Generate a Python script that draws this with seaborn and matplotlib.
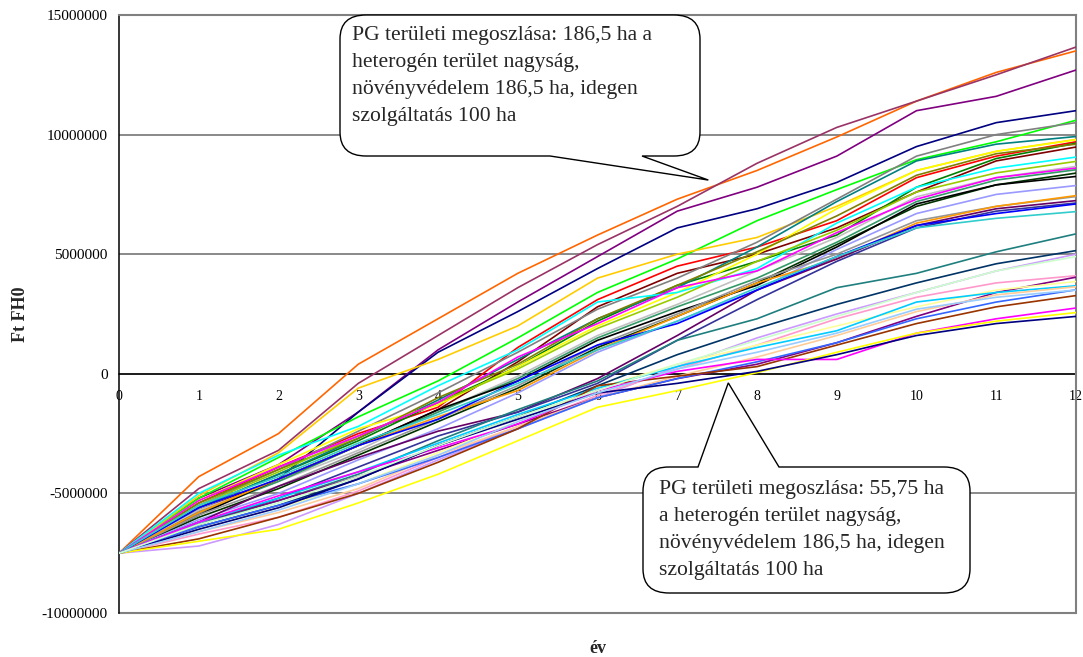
import numpy as np
import pandas as pd
import matplotlib
matplotlib.use("Agg")
import matplotlib.pyplot as plt
from matplotlib.path import Path
from matplotlib.patches import PathPatch
from matplotlib.transforms import Affine2D
import seaborn as sns

# ---- data (values in million Ft, year 0..12) ----
years = list(range(13))
MILLION = 1_000_000

s01 = [-7.5, -4.3, -2.5, 0.4, 2.3, 4.2, 5.8, 7.3, 8.5, 9.9, 11.4, 12.6, 13.5]
s02 = [-7.5, -4.8, -3.2, -0.4, 1.6, 3.6, 5.4, 7.0, 8.8, 10.3, 11.4, 12.5, 13.66]
s03 = [-7.5, -5.2, -3.8, -1.6, 1.0, 3.0, 4.9, 6.8, 7.8, 9.1, 11.0, 11.6, 12.7]
s04 = [-7.5, -5.8, -4.4, -1.6, 0.9, 2.6, 4.4, 6.1, 6.9, 8.0, 9.5, 10.5, 11.0]
s05 = [-7.5, -5.2, -3.5, -1.8, -0.3, 1.5, 3.4, 4.8, 6.4, 7.7, 8.95, 9.7, 10.6]
s06 = [-7.5, -5.1, -3.3, -0.6, 0.6, 2.0, 4.0, 5.0, 5.7, 7.0, 8.5, 9.3, 9.8]
s07 = [-7.5, -5.4, -3.9, -2.5, -1.4, 1.1, 3.1, 4.5, 5.3, 6.4, 8.2, 9.1, 9.7]
s08 = [-7.5, -5.7, -4.4, -3.0, -1.5, 0.5, 2.8, 4.2, 5.0, 6.1, 7.6, 8.9, 9.48]
s09 = [-7.5, -5.6, -4.2, -2.8, -1.2, 0.3, 2.2, 3.7, 4.7, 5.8, 7.8, 9.0, 9.64]
s10 = [-7.5, -5.6, -4.2, -2.7, -1.1, 0.6, 2.3, 3.6, 5.3, 7.2, 8.9, 9.6, 9.92]
s11 = [-7.5, -5.5, -4.0, -2.4, -0.8, 0.9, 2.7, 4.0, 5.5, 7.3, 9.1, 10.0, 10.5]
s12 = [-7.5, -5.3, -3.8, -2.3, -1.3, 0.3, 2.0, 3.4, 5.0, 6.9, 8.5, 9.3, 9.78]
s13 = [-7.5, -5.4, -4.0, -2.7, -1.0, 0.4, 2.3, 3.7, 5.1, 6.6, 8.3, 9.2, 9.6]
s14 = [-7.5, -5.0, -3.4, -2.2, -0.5, 1.0, 3.0, 3.4, 4.4, 6.3, 7.8, 8.6, 9.06]
s15 = [-7.5, -5.5, -4.1, -2.6, -1.2, 0.2, 1.9, 3.2, 4.7, 6.0, 7.6, 8.4, 8.88]
s16 = [-7.5, -5.7, -4.5, -3.2, -1.6, -0.1, 1.6, 2.9, 4.3, 5.7, 7.4, 8.2, 8.67]
s17 = [-7.5, -5.3, -3.9, -2.6, -1.2, 0.7, 2.1, 3.6, 4.3, 5.9, 7.3, 8.2, 8.6]
s18 = [-7.5, -5.8, -4.5, -3.0, -1.6, -0.2, 1.5, 2.8, 4.0, 5.5, 7.2, 8.1, 8.53]
s19 = [-7.5, -6.0, -4.8, -3.4, -2.0, -0.6, 1.1, 2.4, 3.8, 5.4, 7.0, 7.9, 8.39]
s20 = [-7.5, -5.9, -4.4, -3.0, -1.5, -0.3, 1.4, 2.6, 3.7, 5.3, 7.1, 7.9, 8.25]
s21 = [-7.5, -6.1, -5.0, -3.6, -2.3, -0.8, 0.9, 2.2, 3.5, 5.2, 6.7, 7.5, 7.87]
s22 = [-7.5, -5.9, -4.7, -3.3, -1.9, -0.5, 1.2, 2.5, 3.9, 5.0, 6.4, 7.0, 7.41]
s23 = [-7.5, -5.8, -4.4, -3.0, -1.8, -0.7, 1.0, 2.4, 3.8, 4.8, 6.3, 7.0, 7.45]
s24 = [-7.5, -6.2, -4.7, -3.5, -2.4, -1.6, -0.2, 1.6, 3.5, 4.8, 6.2, 6.9, 7.24]
s25 = [-7.5, -6.3, -5.2, -3.9, -2.6, -1.6, -0.4, 1.4, 3.1, 4.7, 6.1, 6.8, 7.14]
s26 = [-7.5, -5.6, -4.4, -3.0, -1.9, -0.3, 1.2, 2.1, 3.5, 4.9, 6.2, 6.7, 7.1]
s27 = [-7.5, -5.5, -4.3, -2.9, -1.7, -0.4, 1.0, 2.2, 3.6, 4.9, 6.1, 6.5, 6.78]
s28 = [-7.5, -6.3, -5.3, -4.2, -2.8, -1.5, -0.3, 1.4, 2.3, 3.6, 4.2, 5.1, 5.85]
s29 = [-7.5, -6.4, -5.5, -4.4, -3.0, -1.8, -0.5, 0.8, 1.9, 2.9, 3.8, 4.6, 5.15]
s30 = [-7.5, -7.2, -6.3, -5.0, -3.6, -2.3, -1.0, 0.3, 1.5, 2.5, 3.4, 4.3, 5.0]
s31 = [-7.5, -6.7, -6.0, -4.9, -3.5, -2.2, -0.9, 0.2, 1.2, 2.3, 3.2, 3.8, 4.1]
s32 = [-7.5, -6.2, -5.3, -4.3, -3.2, -2.1, -1.0, -0.2, 0.4, 1.3, 2.4, 3.4, 4.04]
s33 = [-7.5, -6.5, -5.6, -4.6, -3.3, -2.0, -0.6, 0.4, 1.2, 2.0, 2.8, 3.5, 3.86]
s34 = [-7.5, -6.2, -5.2, -4.1, -2.9, -1.7, -0.6, 0.3, 1.1, 1.8, 3.0, 3.4, 3.68]
s35 = [-7.5, -6.6, -5.8, -4.8, -3.4, -2.2, -1.0, -0.1, 0.7, 1.6, 2.6, 3.3, 3.64]
s36 = [-7.5, -6.4, -5.5, -4.6, -3.5, -2.3, -1.0, -0.2, 0.5, 1.3, 2.3, 3.0, 3.51]
s37 = [-7.5, -6.9, -6.0, -5.0, -3.7, -2.3, -0.5, -0.1, 0.3, 1.2, 2.1, 2.8, 3.27]
s38 = [-7.5, -6.2, -5.1, -4.1, -3.1, -2.1, -0.7, 0.1, 0.6, 0.6, 1.7, 2.3, 2.75]
s39 = [-7.5, -7.0, -6.5, -5.4, -4.2, -2.8, -1.4, -0.7, 0.05, 0.9, 1.7, 2.2, 2.56]
s40 = [-7.5, -6.5, -5.6, -4.4, -3.0, -1.9, -0.8, -0.4, 0.1, 0.8, 1.6, 2.1, 2.4]
s41 = [-7.5, -6.6, -5.7, -4.6, -3.4, -2.0, -0.8, 0.2, 0.9, 1.7, 2.7, 3.2, 3.5]
s42 = [-7.5, -6.3, -5.4, -4.3, -3.0, -1.8, -0.7, 0.4, 1.4, 2.4, 3.4, 4.3, 4.9]

series = [s01, s02, s03, s04, s05, s06, s07, s08, s09, s10, s11, s12, s13, s14,
          s15, s16, s17, s18, s19, s20, s21, s22, s23, s24, s25, s26, s27, s28,
          s29, s30, s31, s32, s33, s34, s35, s36, s37, s38, s39, s40, s41, s42]

line_colors = ["#FF6600", "#993366", "#800080", "#000080", "#00FF00", "#FFCC00",
               "#FF0000", "#800000", "#008000", "#008080", "#808080", "#FFFF00",
               "#808000", "#00FFFF", "#99CC00", "#C0C0C0", "#FF00FF", "#339966",
               "#003300", "#000000", "#9999FF", "#969696", "#FF9900", "#660066",
               "#333399", "#0000FF", "#33CCCC", "#1F7F7F", "#003366", "#CC99FF",
               "#FF99CC", "#800080", "#FFFF99", "#00CCFF", "#FFCC99", "#3366FF",
               "#993300", "#FF00FF", "#FFFF00", "#000080", "#99CCFF", "#CCFFCC"]

y_ticks = [-10000000, -5000000, 0, 5000000, 10000000, 15000000]
x_ticks = years

callout_top = ["PG területi megoszlása: 186,5 ha a",
               "heterogén terület nagyság,",
               "növényvédelem 186,5 ha, idegen",
               "szolgáltatás 100 ha"]
callout_bottom = ["PG területi megoszlása: 55,75 ha",
                  "a heterogén terület nagyság,",
                  "növényvédelem 186,5 ha, idegen",
                  "szolgáltatás 100 ha"]

# ---- long table for seaborn ----
names = [f"S{i + 1:02d}" for i in range(len(series))]
rows = []
for name, vals in zip(names, series):
    for yr, v in zip(years, vals):
        rows.append({"év": yr, "Ft FH0": v * MILLION, "sorozat": name})
df = pd.DataFrame(rows)
palette = dict(zip(names, line_colors))

sns.set_style("white")
plt.rcParams["font.family"] = ["Liberation Serif", "DejaVu Serif"]

W, H = 1083, 657
fig = plt.figure(figsize=(W / 100, H / 100), dpi=100)
ax = fig.add_axes([119 / W, 1 - 613 / H, (1076 - 119) / W, (613 - 15) / H])

sns.lineplot(data=df, x="év", y="Ft FH0", hue="sorozat", palette=palette,
             legend=False, linewidth=1.2, estimator=None, sort=False, ax=ax,
             zorder=3)

GRAY = "#808080"
ax.set_xlim(0, 12)
ax.set_ylim(-10000000, 15000000)
ax.set_yticks(y_ticks)
ax.set_yticklabels([str(v) for v in y_ticks], fontsize=11)
ax.set_xticks(x_ticks)
ax.set_xticklabels([str(v) for v in x_ticks], fontsize=10.5)
ax.tick_params(axis="y", direction="out", length=5, width=1, pad=3, colors="black")
ax.tick_params(axis="x", direction="out", length=5, width=1, pad=7, colors="black")

ax.yaxis.grid(True, color=GRAY, linewidth=1.3)
ax.xaxis.grid(False)
ax.set_axisbelow(True)

ax.spines["bottom"].set_position(("data", 0))
ax.spines["bottom"].set_color("black")
ax.spines["bottom"].set_linewidth(1.1)
ax.spines["bottom"].set_zorder(1)
ax.spines["left"].set_color("black")
ax.spines["left"].set_linewidth(1.1)
for side in ("top", "right"):
    ax.spines[side].set_visible(True)
    ax.spines[side].set_color(GRAY)
    ax.spines[side].set_linewidth(1.5)
ax.axhline(-10000000, color=GRAY, linewidth=1.5, clip_on=False, zorder=1)

ax.set_xlabel("év", fontsize=13, fontweight="bold")
ax.set_ylabel("Ft FH0", fontsize=13, fontweight="bold")
ax.xaxis.set_label_coords(0.5, -0.045)
ax.yaxis.set_label_coords(-0.094, 0.5)

# ---- speech-bubble callouts (pixel layout, origin top-left) ----
px = Affine2D().scale(1 / W, -1 / H).translate(0, 1) + fig.transFigure


def data_to_px(x, y):
    dx, dy = ax.transData.transform((x, y))
    return dx, H - dy


def bubble(x0, y0, x1, y1, rx, ry, side, base_lo, base_hi, tip):
    M, L, C = Path.MOVETO, Path.LINETO, Path.CURVE3
    v, c = [(x0 + rx, y0)], [M]
    if side == "top":
        v += [(base_lo, y0), tip, (base_hi, y0)]
        c += [L, L, L]
    v += [(x1 - rx, y0), (x1, y0), (x1, y0 + ry), (x1, y1 - ry), (x1, y1), (x1 - rx, y1)]
    c += [L, C, C, L, C, C]
    if side == "bottom":
        v += [(base_hi, y1), tip, (base_lo, y1)]
        c += [L, L, L]
    v += [(x0 + rx, y1), (x0, y1), (x0, y1 - ry), (x0, y0 + ry), (x0, y0), (x0 + rx, y0), (0, 0)]
    c += [L, C, C, L, C, C, Path.CLOSEPOLY]
    patch = PathPatch(Path(v, c), facecolor="white", edgecolor="black",
                      linewidth=1.0, transform=px, zorder=10, clip_on=False)
    fig.add_artist(patch)


def bubble_text(lines, x, first_center, step, size):
    for i, line in enumerate(lines):
        fig.text(x / W, 1 - (first_center + i * step + 7) / H, line,
                 fontsize=size, ha="left", va="baseline", zorder=11)


tip_top = data_to_px(7.39, 8100000)
bubble(340, 15, 700, 156, 26, 24, "bottom", 550, 642, tip_top)
bubble_text(callout_top, 352, 33, 27, 15.6)

tip_bottom = data_to_px(7.64, -380000)
bubble(643, 467, 970, 593, 26, 24, "top", 698, 779, tip_bottom)
bubble_text(callout_bottom, 659, 487, 27, 15.6)

fig.savefig("out.png", dpi=100)
